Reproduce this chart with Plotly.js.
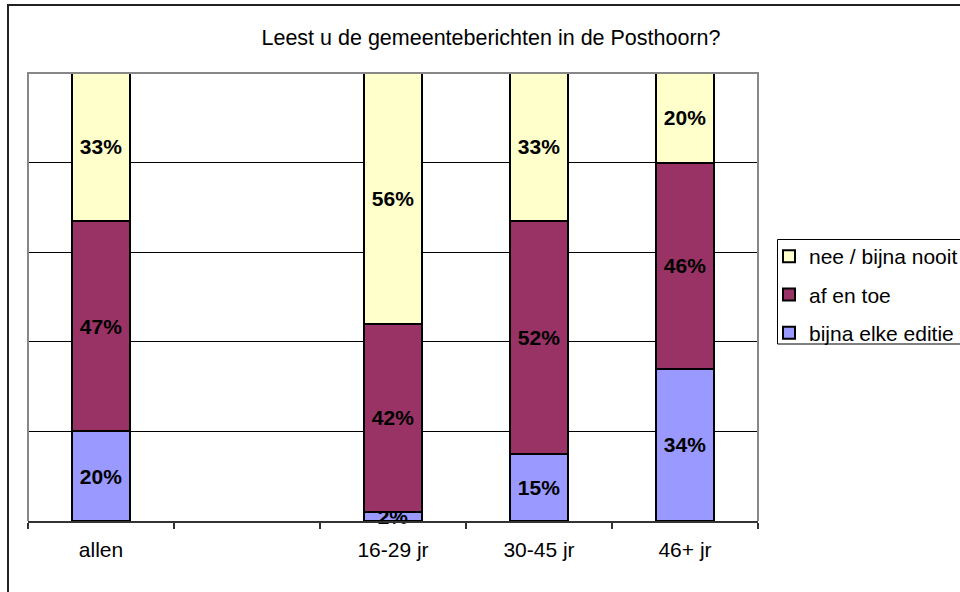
<!DOCTYPE html>
<html><head><meta charset="utf-8">
<script src="https://cdn.plot.ly/plotly-3.0.1.min.js"></script>
<style>
html,body{margin:0;padding:0;background:#fff;overflow:hidden}
#wrap{position:relative;width:960px;height:592px;overflow:hidden}
#chart{width:960px;height:592px}
#frame{position:absolute;left:7px;top:4px;width:1000px;height:1000px;border:2px solid #222;pointer-events:none}
</style></head>
<body><div id="wrap"><div id="chart"></div><div id="frame"></div></div>
<script>
const categories = ["allen", " ", "16-29 jr", "30-45 jr", "46+ jr"];
const seriesNames = ["bijna elke editie", "af en toe", "nee / bijna nooit"];
const bijnaElkeEditie = [20, null, 2, 15, 34];
const afEnToe = [47, null, 42, 52, 46];
const neeBijnaNooit = [33, null, 56, 33, 20];
const seriesColors = ["#9999FF", "#993366", "#FFFFCC"];
const chartTitle = "Leest u de gemeenteberichten in de Posthoorn?";

const FONT = "Liberation Sans, Arial, sans-serif";
const FS = 21;
const seriesValues = [bijnaElkeEditie, afEnToe, neeBijnaNooit];

const traces = seriesValues.map((vals, i) => ({
  type: "bar",
  name: seriesNames[i],
  legendgroup: "g" + i,
  legendrank: 3 - i,
  x: categories,
  y: vals,
  width: 0.4,
  cliponaxis: false,
  marker: {color: seriesColors[i], line: {color: "#000", width: 2}},
  text: vals.map(v => v == null ? "" : v + "%"),
  texttemplate: "<b>%{text}</b>",
  textposition: "inside",
  insidetextanchor: "middle",
  constraintext: "none",
  textfont: {family: FONT, size: FS, color: "#000"},
  hoverinfo: "skip"
}));

// plot area in pixels: x 28..758, y 73..521
const px = v => (v - 28) / 730;
const py = v => (521 - v) / 448;

const layout = {
  width: 960, height: 592,
  margin: {l: 28, r: 202, t: 73, b: 71, autoexpand: false},
  paper_bgcolor: "#fff", plot_bgcolor: "#fff",
  barmode: "stack",
  showlegend: true,
  uniformtext: {mode: "show", minsize: FS},
  font: {family: FONT, size: FS, color: "#000"},
  title: {text: chartTitle, x: 491/960, xanchor: "center", xref: "container",
          y: 1 - 37/592, yanchor: "middle", yref: "container",
          font: {family: FONT, size: 21.5, color: "#000"}},
  xaxis: {type: "category", tickson: "boundaries", ticks: "outside", ticklen: 6,
          tickwidth: 1.5, tickcolor: "#333", showgrid: false, showline: true,
          linecolor: "#333", linewidth: 2, zeroline: false, ticklabelstandoff: 9,
          tickfont: {family: FONT, size: FS, color: "#000"}, range: [-0.5, 4.5]},
  yaxis: {range: [0, 100], dtick: 20, showticklabels: false, ticks: "",
          showgrid: true, gridcolor: "#000", gridwidth: 1, zeroline: false, showline: false},
  legend: {xref: "container", x: 769/960, xanchor: "left",
           yref: "container", y: 1 - 236/592, yanchor: "top",
           borderwidth: 0, bgcolor: "rgba(0,0,0,0)",
           traceorder: "grouped", tracegroupgap: 8,
           font: {family: FONT, size: FS, color: "#000"}},
  shapes: [
    {type: "path", xref: "paper", yref: "paper",
     path: "M0,0 L0,1 L1,1 L1,0", line: {color: "#888", width: 2}, layer: "above"},
    {type: "rect", xref: "paper", yref: "paper",
     x0: px(777.5), x1: px(1000), y0: py(344), y1: py(239.5),
     line: {color: "#000", width: 1}, fillcolor: "rgba(0,0,0,0)", layer: "above"}
  ]
};

Plotly.newPlot("chart", traces, layout, {displayModeBar: false, staticPlot: true});
</script></body></html>
